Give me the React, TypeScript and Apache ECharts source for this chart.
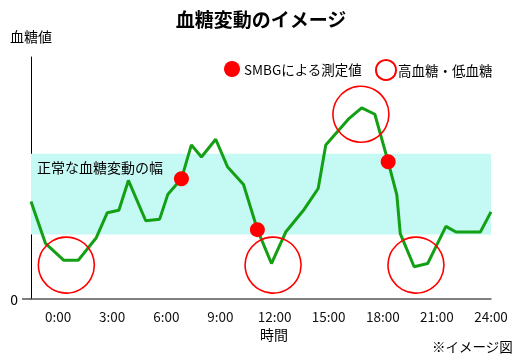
import React, { useEffect, useRef } from "react";
import * as echarts from "echarts";

const FONT = "'Noto Sans CJK JP', 'Noto Sans', sans-serif";

const title = "血糖変動のイメージ";
const yAxisName = "血糖値";
const xAxisName = "時間";
const note = "※イメージ図";
const bandLabel = "正常な血糖変動の幅";

const xTickValues = [0, 3, 6, 9, 12, 15, 18, 21, 24];
const xRange = [-1.5, 24];
const yRange = [0, 300];
const normalBand = [80, 180];

const hours = [
  -1.5, -0.7, 0.32, 1.12, 2.12, 2.73, 3.37, 3.9, 4.86, 5.63, 6.09, 6.84, 7.39, 7.95,
  8.74, 9.39, 10.28, 11.05, 11.83, 12.62, 13.64, 14.42, 14.84, 16.14, 16.83, 17.56,
  18.3, 18.78, 18.97, 19.74, 20.49, 21.5, 22.06, 23.41, 24.0,
];
const glucose = [
  121, 69, 48, 48, 76, 107, 110, 147, 97, 99, 130, 149, 191, 176,
  198, 164, 142, 86, 44, 83, 111, 137, 191, 224, 237, 229,
  170, 129, 81, 40, 44, 90, 83, 83, 108,
];

const smbgName = "SMBGによる測定値";
const smbgHours = [6.84, 11.05, 18.3];
const smbgValues = [149, 86, 170];

const excursionName = "高血糖・低血糖";
const excursionHours = [0.46, 11.92, 16.79, 19.84];
const excursionValues = [42, 42, 229, 42];

export default function App() {
  const ref = useRef<HTMLDivElement>(null);

  useEffect(() => {
    if (!ref.current) return;
    const chart = echarts.init(ref.current, null, { renderer: "svg" });
    const option: any = {
      animation: false,
      textStyle: { fontFamily: FONT },
      title: {
        text: title,
        left: "center",
        top: 4,
        textStyle: { fontFamily: FONT, fontSize: 19, fontWeight: "bold", color: "#000" },
      },
      legend: [
        {
          data: [{ name: smbgName }],
          left: 224,
          top: 61,
          icon: "circle",
          itemWidth: 16,
          itemHeight: 16,
          itemGap: 4,
          padding: 0,
          textStyle: { fontFamily: FONT, fontSize: 13.5, color: "#000", padding: [0, 0, 0, -1] },
          selectedMode: false,
        },
        {
          data: [{ name: excursionName }],
          left: 375,
          top: 59,
          icon: "circle",
          itemWidth: 20,
          itemHeight: 20,
          padding: 0,
          textStyle: { fontFamily: FONT, fontSize: 13.5, color: "#000", padding: [0, 0, 0, -3] },
          selectedMode: false,
        },
      ],
      grid: { left: 31, right: 31, top: 57, bottom: 65, containLabel: false },
      xAxis: {
        type: "value",
        min: xRange[0],
        max: xRange[1],
        axisLine: { show: true, onZero: false, lineStyle: { color: "#555", width: 1.5 } },
        axisTick: { show: false },
        splitLine: { show: false },
        axisLabel: {
          customValues: xTickValues,
          formatter: (v: number) => `${v}:00`,
          fontFamily: FONT,
          fontSize: 13.5,
          color: "#111",
          margin: 10,
        },
      },
      yAxis: {
        type: "value",
        min: yRange[0],
        max: yRange[1],
        interval: 300,
        axisLine: { show: true, onZero: false, lineStyle: { color: "#000", width: 1 } },
        axisTick: { show: false },
        splitLine: { show: false },
        axisLabel: {
          formatter: (v: number) => (v === 0 ? "0" : ""),
          fontFamily: FONT,
          fontSize: 14,
          color: "#000",
          margin: 13,
        },
      },
      series: [
        {
          name: "glucose",
          type: "line",
          data: hours.map((h, i) => [h, glucose[i]]),
          symbol: "none",
          lineStyle: { color: "#14a014", width: 3 },
          z: 2,
          markArea: {
            silent: true,
            itemStyle: { color: "#c4f9f4" },
            label: {
              show: true,
              position: "insideTopLeft",
              offset: [1, 1],
              fontFamily: FONT,
              fontSize: 14,
              color: "#000",
            },
            data: [
              [
                { xAxis: xRange[0], yAxis: normalBand[1], name: bandLabel },
                { xAxis: xRange[1], yAxis: normalBand[0] },
              ],
            ],
          },
        },
        {
          name: smbgName,
          type: "scatter",
          data: smbgHours.map((h, i) => [h, smbgValues[i]]),
          symbol: "circle",
          symbolSize: 15,
          itemStyle: { color: "#ff0000", opacity: 1 },
          z: 4,
        },
        {
          name: excursionName,
          type: "scatter",
          data: excursionHours.map((h, i) => [h, excursionValues[i]]),
          symbol: "circle",
          symbolSize: 56,
          itemStyle: { color: "rgba(255,255,255,0)", borderColor: "#ff0000", borderWidth: 1.6, opacity: 1 },
          z: 3,
        },
      ],
      graphic: [
        {
          type: "text",
          left: 10,
          top: 29,
          style: { text: yAxisName, fontFamily: FONT, fontSize: 14, fill: "#000" },
        },
        {
          type: "text",
          left: 260,
          top: 327,
          style: { text: xAxisName, fontFamily: FONT, fontSize: 14, fill: "#000" },
        },
        {
          type: "text",
          left: 432,
          top: 339,
          style: { text: note, fontFamily: FONT, fontSize: 13.5, fill: "#000" },
        },
        {
          type: "line",
          shape: { x1: 22, y1: 299, x2: 31, y2: 299 },
          style: { stroke: "#555", lineWidth: 1.5 },
        },
      ],
    };
    chart.setOption(option);
    return () => chart.dispose();
  }, []);

  return (
    <div
      ref={ref}
      style={{ position: "fixed", left: 0, top: 0, width: 522, height: 364 }}
    />
  );
}
